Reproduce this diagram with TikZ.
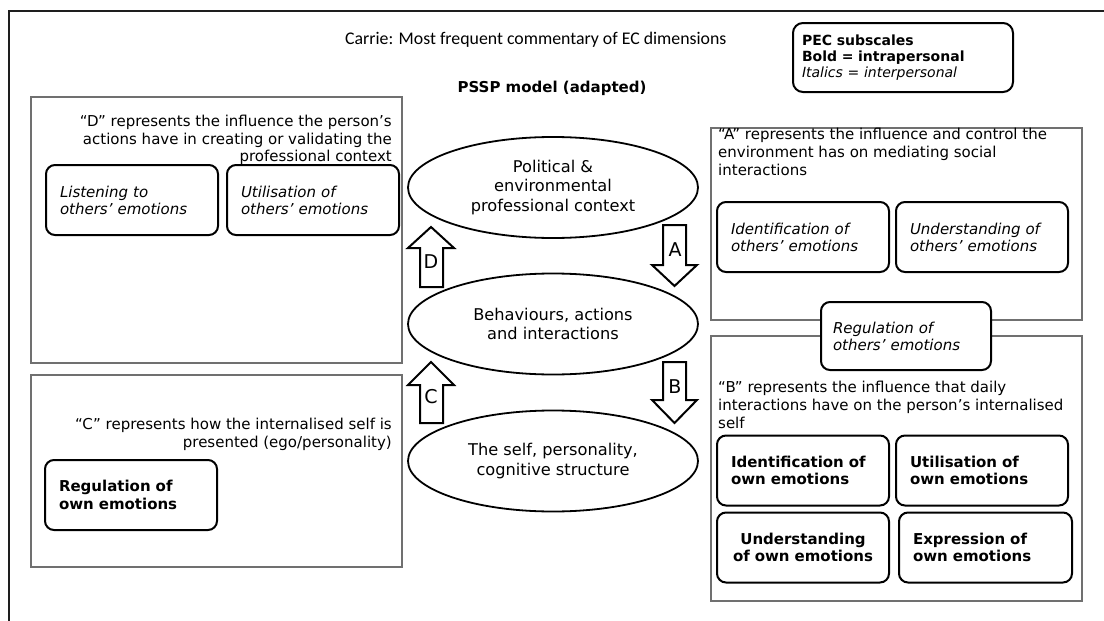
\documentclass[tikz,border=0pt]{standalone}
\usepackage{fontspec}
\setmainfont{DejaVu Sans}
\newfontfamily\calibri{Carlito}
\usetikzlibrary{shapes.geometric}
\definecolor{panelgray}{HTML}{707070}
\definecolor{framegray}{HTML}{1E1E1E}
\begin{document}
\begin{tikzpicture}[x=1pt,y=-1pt,
  panel/.style={draw=panelgray, line width=1.2pt},
  body/.style={font=\fontsize{15}{17.6}\selectfont, inner sep=0pt},
  subbox/.style={draw=black, fill=white, line width=2pt, rounded corners=9pt,
    minimum width=172pt, minimum height=70pt, text width=144pt, inner xsep=14pt,
    align=left, font=\fontsize{15}{17}\selectfont},
  inter/.style={subbox, font=\fontsize{15}{17}\selectfont\itshape},
  intra/.style={subbox, font=\fontsize{15}{17.5}\selectfont\bfseries},
  ctx/.style={ellipse, draw=black, line width=1.8pt, minimum width=290pt,
    minimum height=101pt, inner sep=0pt, align=center,
    font=\fontsize{16.2}{19.6}\selectfont},
  blockarrow/.style={draw=black, fill=white, line width=2pt, line join=miter},
  letter/.style={font=\fontsize{19}{20}\selectfont, inner sep=0pt}]

\useasboundingbox (0,0) rectangle (1104,621);

% outer frame (top and left edges)
\draw[framegray, line width=2pt] (8,11) -- (1104,11);
\draw[framegray, line width=2pt] (9,11) -- (9,621);

% headings
\node[font=\calibri\fontsize{17.8}{20}\selectfont, anchor=west, inner sep=0pt]
  (title) at (345,40) {Carrie: Most frequent commentary of EC dimensions};
\node[font=\fontsize{15}{17}\selectfont\bfseries, inner sep=0pt]
  (model) at (552,88) {PSSP model (adapted)};

% legend
\node[draw=black, line width=2pt, rounded corners=10pt, minimum width=220pt,
  minimum height=69pt, text width=202pt, inner xsep=9pt, align=left,
  font=\fontsize{14}{15.8}\selectfont] (legend) at (903,57.5)
  {\textbf{PEC subscales}\\\textbf{Bold = intrapersonal}\\\textit{Italics = interpersonal}};

% panels
\draw[panel] (31,97) rectangle (402,363);
\draw[panel] (31,375) rectangle (402,567);
\draw[panel] (711,128) rectangle (1082,320);
\draw[panel] (711,336) rectangle (1082,601);

% panel captions
\node[body, anchor=east, align=right] (capD) at (392,140)
  {“D” represents the influence the person’s\\actions have in creating or validating the\\professional context};
\node[body, anchor=east, align=right] (capC) at (392,434.5)
  {“C” represents how the internalised self is\\presented (ego/personality)};
\node[body, anchor=west, align=left] (capA) at (718,152)
  {“A” represents the influence and control the\\environment has on mediating social\\interactions};
\node[body, anchor=west, align=left] (capB) at (718,405)
  {“B” represents the influence that daily\\interactions have on the person’s internalised\\self};

% subscale boxes
\node[inter] (listen) at (132,200) {Listening to\\others’ emotions};
\node[inter] (utilO) at (313,200) {Utilisation of\\others’ emotions};
\node[intra] (regOwn) at (131,495) {Regulation of\\own emotions};
\node[inter] (identO) at (803,237) {Identification of\\others’ emotions};
\node[inter] (undO) at (982,237) {Understanding of\\others’ emotions};
\node[inter, minimum width=170pt, text width=146pt, inner xsep=12pt,
  minimum height=68pt] (regO) at (906,336) {Regulation of\\others’ emotions};
\node[intra] (identOwn) at (803,470.5) {Identification of\\own emotions};
\node[intra] (utilOwn) at (982,470.5) {Utilisation of\\own emotions};
\node[intra, align=center] (undOwn) at (803,547.5) {Understanding\\of own emotions};
\node[intra, minimum width=173pt, text width=145pt] (exprOwn) at (985.5,547.5) {Expression of\\own emotions};

% PSSP levels
\node[ctx] (pol) at (553,187.5) {Political \&\\environmental\\professional context};
\node[ctx] (beh) at (553,324) {Behaviours, actions\\and interactions};
\node[ctx] (self) at (553,461) {The self, personality,\\cognitive structure};

% influence arrows
\draw[blockarrow] (420,287) -- (420,248) -- (408,248) -- (431,227) -- (454,248)
  -- (443,248) -- (443,287) -- cycle;
\draw[blockarrow] (420,423) -- (420,385) -- (408,385) -- (431,362) -- (454,385)
  -- (443,385) -- (443,423) -- cycle;
\draw[blockarrow] (663,225) -- (663,265) -- (652,265) -- (674.5,286) -- (697,265)
  -- (686,265) -- (686,225) -- cycle;
\draw[blockarrow] (663,362) -- (663,400) -- (652,400) -- (674.5,423) -- (697,400)
  -- (686,400) -- (686,362) -- cycle;
\node[letter] (lD) at (431,262) {D};
\node[letter] (lC) at (431,397) {C};
\node[letter] (lA) at (675,250) {A};
\node[letter] (lB) at (675,387) {B};
\end{tikzpicture}
\end{document}
